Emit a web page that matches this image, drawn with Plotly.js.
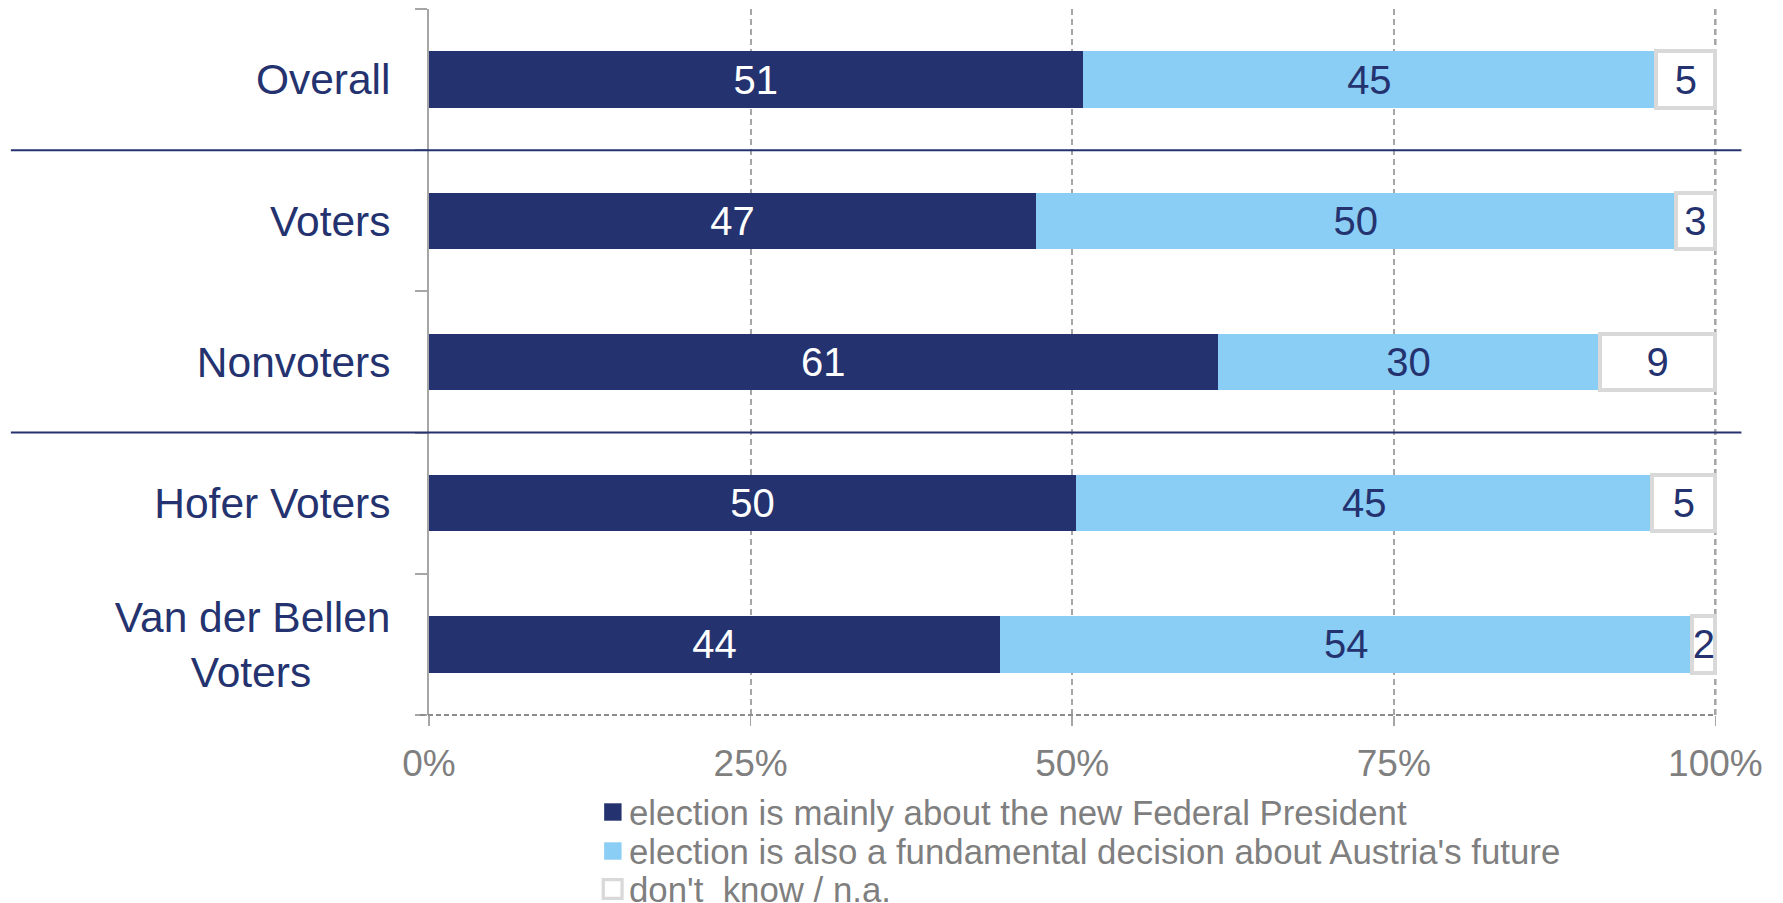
<!DOCTYPE html>
<html>
<head>
<meta charset="utf-8">
<script src="https://cdn.plot.ly/plotly-3.0.1.min.js"></script>
<style>
  html, body { margin: 0; padding: 0; background: #ffffff; }
  #chart { width: 1783px; height: 903px; }
</style>
</head>
<body>
<div id="chart"></div>
<script>
// ---- data ----
var categories = ['Overall', 'Voters', 'Nonvoters', 'Hofer Voters', 'Van der Bellen Voters'];
var categoryLabels = ['Overall', 'Voters', 'Nonvoters', 'Hofer Voters', 'Van der Bellen<br>Voters'];
var mainlyPresident = [50.8, 47.2, 61.3, 50.3, 44.4];
var fundamentalDecision = [44.6, 49.7, 29.7, 44.8, 53.8];
var dontKnow = [4.6, 3.1, 9.0, 4.9, 1.8];
var seriesNames = [
  'election is mainly about the new Federal President',
  "election is also a fundamental decision about Austria's future",
  "don't  know / n.a."
];
var xTicks = [0, 25, 50, 75, 100];
var xTickLabels = ['0%', '25%', '50%', '75%', '100%'];

// ---- styling ----
var NAVY = '#24336F';
var LIGHT = '#8ACDF5';
var BOXLINE = '#D9D9D9';
var GREY_TXT = '#7F7F7F';
var GRID = '#A6A6A6';
var FONT = 'Liberation Sans, Arial, sans-serif';

var W = 1783, H = 903;
// x range runs slightly past 100 so that the 100% gridline is drawn inside the plot
var XMAX = 100.2;
var M = { l: 429, r: 65.4, t: 9, b: 188 };
var PW = W - M.l - M.r, PH = H - M.t - M.b;
function px2x(px) { return (px - M.l) / PW; }
function px2y(py) { return 1 - (py - M.t) / PH; }

// center the second line of the multi-line label
var yTickText = categoryLabels.map(function (t) {
  return t.indexOf('<br>') >= 0 ? t + '\u00a0\u00a0\u00a0\u00a0\u00a0\u00a0\u2009' : t;
});

function barTrace(vals, name, fill, txtColor, lineColor, lineWidth) {
  return {
    type: 'bar', orientation: 'h',
    y: categories, x: vals, name: name,
    marker: { color: fill, line: { color: lineColor, width: lineWidth } },
    texttemplate: '%{x:.0f}', textposition: 'inside', insidetextanchor: 'middle',
    textangle: 0, constraintext: 'none', cliponaxis: false,
    textfont: { family: FONT, size: 40, color: txtColor },
    hoverinfo: 'skip', showlegend: false
  };
}

var data = [
  barTrace(mainlyPresident, seriesNames[0], NAVY, '#FFFFFF', NAVY, 0),
  barTrace(fundamentalDecision, seriesNames[1], LIGHT, NAVY, LIGHT, 0),
  barTrace(dontKnow, seriesNames[2], '#FFFFFF', NAVY, BOXLINE, 4)
];

// ---- legend drawn as annotations + swatches ----
var legendRows = [812, 851, 889];
var legendFill = [NAVY, LIGHT, '#FFFFFF'];
var legendLine = [NAVY, LIGHT, BOXLINE];
var annotations = [], shapes = [];

// 100% reference line, between the gridlines and the bars
shapes.push({
  type: 'line', xref: 'x', yref: 'paper', x0: 100, x1: 100, y0: 0, y1: 1, layer: 'between',
  line: { color: '#B4B4B4', width: 2.5, dash: '6px,4px' }
});

seriesNames.forEach(function (nm, i) {
  annotations.push({
    xref: 'paper', yref: 'paper', x: px2x(627), y: px2y(legendRows[i]),
    xanchor: 'left', yanchor: 'middle', showarrow: false, text: nm,
    font: { family: FONT, size: 34.8, color: GREY_TXT }
  });
  var half = i === 2 ? 9.4 : 8.7;
  var cx = i === 2 ? 612.6 : 612.8;
  shapes.push({
    type: 'rect', xref: 'paper', yref: 'paper',
    x0: px2x(cx - half), x1: px2x(cx + half),
    y0: px2y(legendRows[i] - half), y1: px2y(legendRows[i] + half),
    fillcolor: legendFill[i], line: { color: legendLine[i], width: i === 2 ? 3.3 : 0 }
  });
});

// dashed bottom axis line
shapes.push({
  type: 'line', xref: 'paper', yref: 'paper', x0: px2x(420), x1: px2x(1715), y0: 0, y1: 0,
  line: { color: '#8C8C8C', width: 2, dash: '5px,3px' }
});
// group separators
[0.8, 0.4].forEach(function (yy) {
  shapes.push({
    type: 'line', xref: 'paper', yref: 'paper', x0: px2x(11), x1: px2x(1741), y0: yy, y1: yy,
    line: { color: NAVY, width: 2 }
  });
});

var layout = {
  width: W, height: H,
  margin: M,
  paper_bgcolor: '#FFFFFF', plot_bgcolor: '#FFFFFF',
  barmode: 'stack', bargap: 0.6,
  showlegend: false,
  font: { family: FONT },
  xaxis: {
    range: [0, XMAX], tickvals: xTicks, ticktext: xTickLabels,
    showgrid: true, gridcolor: GRID, gridwidth: 2, griddash: '6px,4px',
    zeroline: false, showline: false,
    ticks: 'outside', ticklen: 10, tickwidth: 1.5, tickcolor: GRID,
    tickfont: { family: FONT, size: 37, color: GREY_TXT },
    ticklabelstandoff: 6, fixedrange: true
  },
  yaxis: {
    type: 'category', autorange: 'reversed',
    tickvals: categories, ticktext: yTickText,
    showline: true, linecolor: GRID, linewidth: 2,
    ticks: 'outside', tickson: 'boundaries', ticklen: 12, tickwidth: 2, tickcolor: GRID,
    showgrid: false, zeroline: false,
    tickfont: { family: FONT, size: 42.5, color: NAVY },
    ticklabelstandoff: 28, fixedrange: true
  },
  shapes: shapes,
  annotations: annotations
};

Plotly.newPlot('chart', data, layout, { displayModeBar: false, staticPlot: true });
</script>
</body>
</html>
